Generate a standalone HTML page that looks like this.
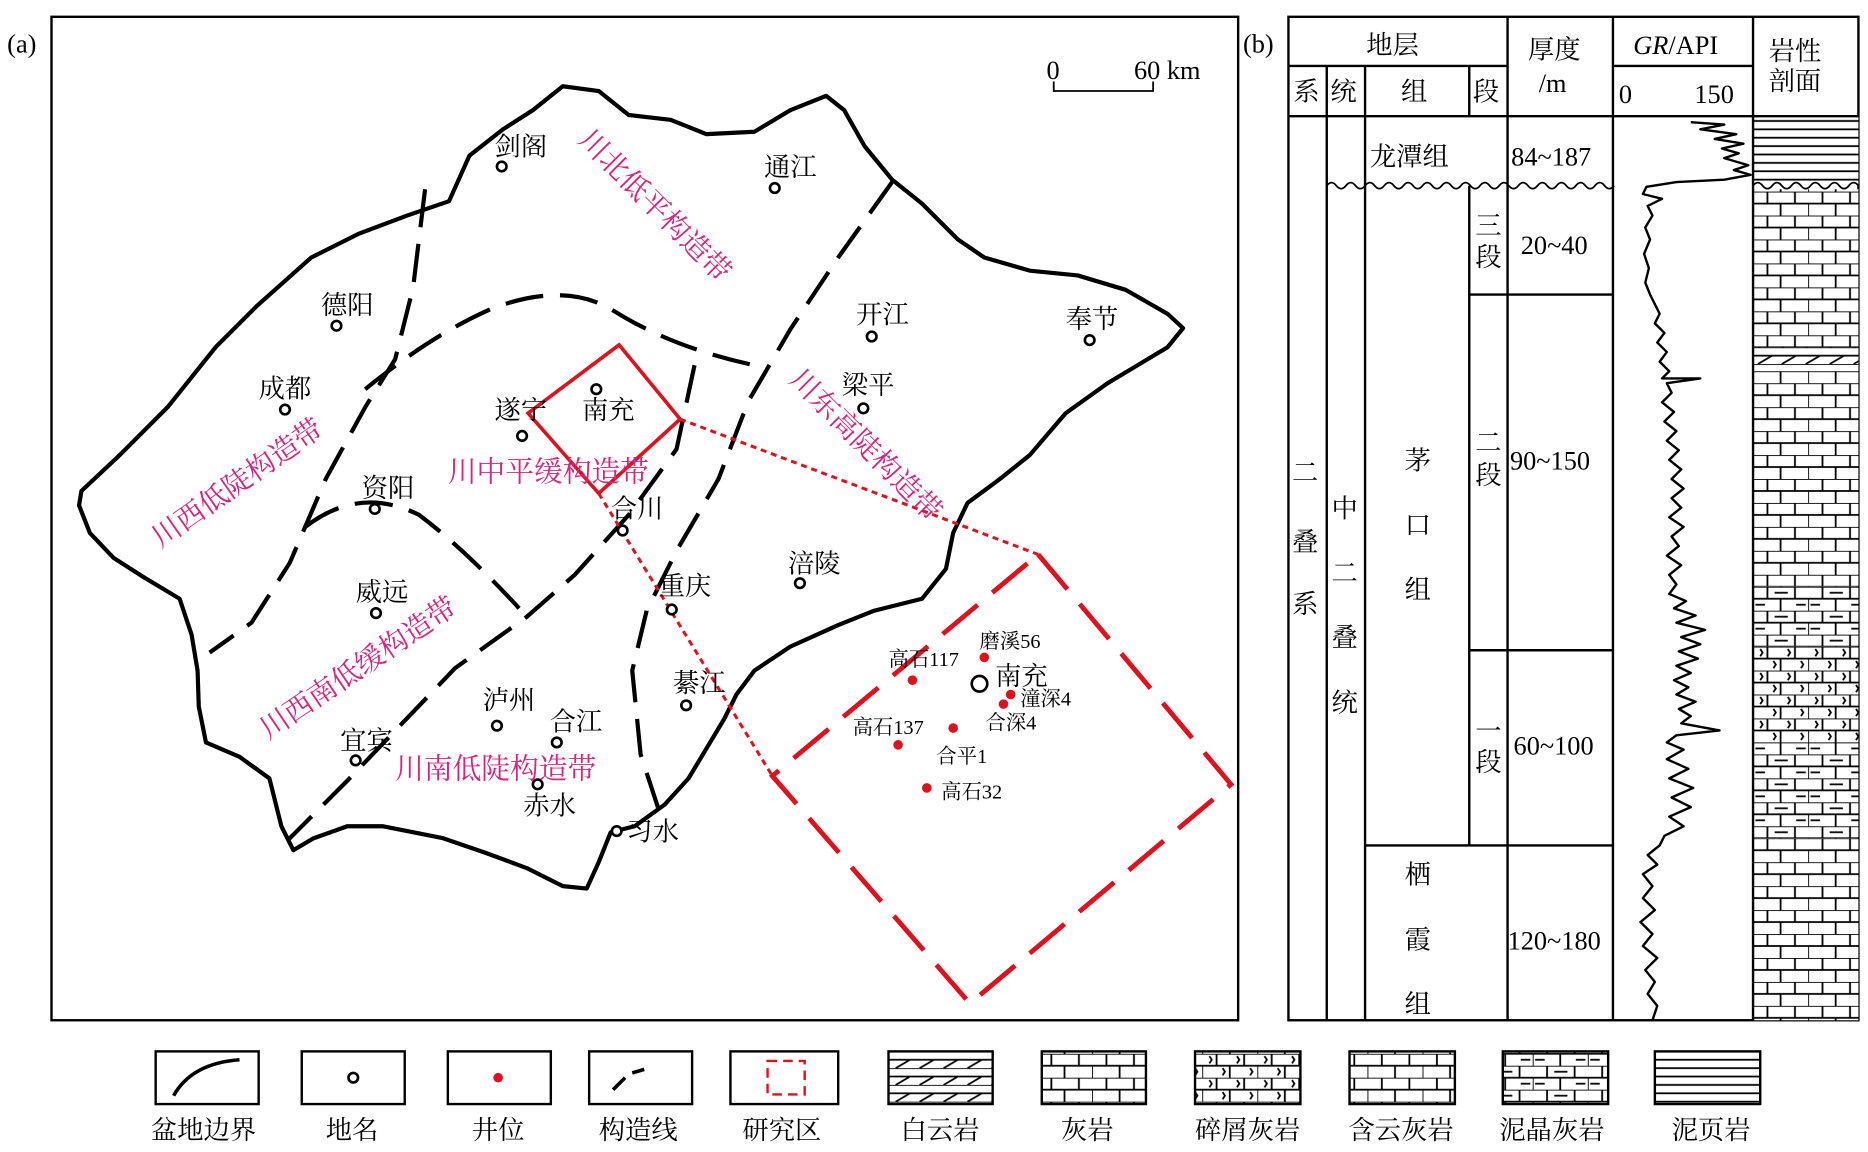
<!DOCTYPE html>
<html><head><meta charset="utf-8"><style>
html,body{margin:0;padding:0;background:#fff;}
svg{display:block;}
text{font-family:"Liberation Serif","Noto Serif CJK SC",serif;}
.b{font-size:22px;fill:#000;}
.m{font-size:24px;fill:#d6247f;}
.r{font-size:17px;fill:#000;}
</style></head><body>
<svg width="1868" height="1152" viewBox="0 0 1560 962" xmlns="http://www.w3.org/2000/svg">
<defs>
<pattern id="lime" width="46" height="20" patternUnits="userSpaceOnUse" x="1464" y="160">
<rect width="46" height="20" fill="#fff"/>
<path d="M0 0H46M0 10H46M12 0V10M35 0V10M0 10V20M23 10V20" stroke="#000" stroke-width="1.5" fill="none"/>
</pattern>
<pattern id="mud" width="46" height="20" patternUnits="userSpaceOnUse" x="1464" y="490">
<rect width="46" height="20" fill="#fff"/>
<path d="M0 0H46M0 10H46M12 0V10M35 0V10M0 10V20M23 10V20M18 5H29M2 15H10M36 15H44" stroke="#000" stroke-width="1.5" fill="none"/>
</pattern>
<pattern id="bio" width="46" height="20" patternUnits="userSpaceOnUse" x="1464" y="540">
<rect width="46" height="20" fill="#fff"/>
<path d="M0 0H46M0 10H46M12 0V10M35 0V10M0 10V20M23 10V20M6 2l2 3-2 3M29 2l2 3-2 3M17 12l2 3-2 3M40 12l2 3-2 3" stroke="#000" stroke-width="1.5" fill="none"/>
</pattern>
<pattern id="dol" width="40" height="14" patternUnits="userSpaceOnUse" x="1464" y="290">
<rect width="40" height="14" fill="#fff"/>
<path d="M0 0H40M0 7H40M4 14L16 7M24 14L36 7" stroke="#000" stroke-width="1.5" fill="none"/>
</pattern>
<pattern id="sh" width="10" height="7" patternUnits="userSpaceOnUse" x="0" y="100">
<rect width="10" height="7" fill="#fff"/><path d="M0 1H10" stroke="#000" stroke-width="1.5"/>
</pattern>
</defs>

<text x="6" y="44" class="b" font-size="21">(a)</text>
<rect x="43" y="14" width="991" height="838" fill="none" stroke="#000" stroke-width="2"/>
<text x="874" y="66" class="b">0</text><text x="947" y="66" class="b">60 km</text>
<path d="M880 68V76H963V68" fill="none" stroke="#000" stroke-width="1.5"/>

<path d="M68 410 L100 380 L140 340 L180 290 L215 255 L260 215 L300 195 L340 180 L375 168 L392 130 L420 108 L445 92 L470 72 L500 76 L525 96 L560 100 L590 112 L630 110 L660 92 L690 80 L705 92 L722 122 L745 150 L770 170 L800 200 L822 215 L860 226 L900 230 L940 242 L975 262 L988 274 L975 290 L950 305 L925 320 L890 345 L860 380 L835 400 L808 420 L796 445 L790 475 L770 500 L730 510 L700 522 L660 540 L630 560 L615 580 L605 600 L590 625 L575 650 L555 672 L530 690 L510 695 L500 720 L490 742 L470 740 L440 725 L405 712 L370 700 L320 690 L290 690 L262 700 L245 710 L235 690 L225 650 L200 632 L172 620 L166 590 L165 560 L160 530 L150 500 L120 482 L95 466 L75 445 L66 422 Z" fill="none" stroke="#000" stroke-width="3.5" stroke-linejoin="round"/>

<g fill="none" stroke="#000" stroke-width="3.5" stroke-dasharray="32,14">
<path d="M355 158 L345 240 L330 300 L305 340 L272 400 L242 470 L210 520 L175 545"/>
<path d="M305 325 Q360 280 410 258 Q470 235 510 258 Q560 290 630 305"/>
<path d="M745 152 L700 215 L660 275 L625 335 L600 400 L565 460 L540 510 L528 560 L535 630 L552 682"/>
<path d="M255 440 Q300 405 350 430 Q390 460 440 515"/>
<path d="M580 305 L565 375 L525 430 L480 480 L440 515 L380 558 L335 605 L290 652 L240 702"/>
</g>

<polygon points="517,288 568,350 500,412 441,345" fill="none" stroke="#e0101c" stroke-width="3"/>
<g stroke="#e0101c" stroke-width="2.5" stroke-dasharray="5,4" fill="none">
<path d="M568 350 L867 463"/><path d="M500 412 L645 648"/>
</g>
<polygon points="867,463 1028,655 810,838 645,648" fill="none" stroke="#e0101c" stroke-width="4" stroke-dasharray="38,16"/>

<g fill="#fff" stroke="#000" stroke-width="2.2">
<circle cx="419" cy="139" r="4"/><circle cx="647" cy="157" r="4"/><circle cx="281" cy="272" r="4"/>
<circle cx="728" cy="281" r="4"/><circle cx="910" cy="284" r="4"/><circle cx="238" cy="342" r="4"/>
<circle cx="498" cy="325" r="4"/><circle cx="436" cy="364" r="4"/><circle cx="721" cy="341" r="4"/>
<circle cx="313" cy="425" r="4"/><circle cx="520" cy="443" r="4"/><circle cx="668" cy="487" r="4"/>
<circle cx="314" cy="512" r="4"/><circle cx="561" cy="509" r="4"/><circle cx="415" cy="606" r="4"/>
<circle cx="465" cy="620" r="4"/><circle cx="573" cy="589" r="4"/><circle cx="297" cy="635" r="4"/>
<circle cx="449" cy="655" r="4"/><circle cx="515" cy="694" r="4"/>
<circle cx="818" cy="571" r="6.5"/>
</g>
<g class="b" font-size="23">
<text x="413" y="130">剑阁</text><text x="638" y="147">通江</text><text x="268" y="262">德阳</text>
<text x="715" y="270">开江</text><text x="890" y="274">奉节</text><text x="216" y="332">成都</text>
<text x="486" y="350">南充</text><text x="413" y="350">遂宁</text><text x="703" y="329">梁平</text>
<text x="302" y="415">资阳</text><text x="510" y="432">合川</text><text x="658" y="478">涪陵</text>
<text x="297" y="502">威远</text><text x="550" y="497">重庆</text><text x="403" y="592">泸州</text>
<text x="459" y="610">合江</text><text x="562" y="578">綦江</text><text x="284" y="626">宜宾</text>
<text x="437" y="680">赤水</text><text x="523" y="702">习水</text>
<text x="831" y="572">南充</text>
</g>
<text class="m" transform="translate(482,118) rotate(45)">川北低平构造带</text>
<text class="m" transform="translate(658,318) rotate(45)">川东高陡构造带</text>
<text class="m" transform="translate(134,458) rotate(-35)">川西低陡构造带</text>
<text class="m" transform="translate(224,618) rotate(-34)">川西南低缓构造带</text>
<text class="m" x="374" y="402">川中平缓构造带</text>
<text class="m" x="330" y="650">川南低陡构造带</text>

<g fill="#e0101c">
<circle cx="822" cy="549" r="4"/><circle cx="762" cy="568" r="4"/><circle cx="844" cy="580" r="4"/>
<circle cx="838" cy="588" r="4"/><circle cx="796" cy="608" r="4"/><circle cx="750" cy="622" r="4"/>
<circle cx="774" cy="658" r="4"/>
</g>
<g class="r">
<text x="818" y="541">磨溪56</text><text x="742" y="556">高石117</text><text x="852" y="589">潼深4</text>
<text x="823" y="609">合深4</text><text x="712" y="613">高石137</text><text x="782" y="637">合平1</text>
<text x="786" y="667">高石32</text>
</g>

<text x="1038" y="44" class="b" font-size="21">(b)</text>
<rect x="1076" y="14" width="476" height="838" fill="none" stroke="#000" stroke-width="2"/>
<rect x="1464" y="97" width="88" height="58" fill="url(#sh)"/>
<rect x="1464" y="158" width="88" height="332" fill="url(#lime)"/>
<rect x="1464" y="290" width="88" height="20" fill="url(#dol)"/>
<rect x="1464" y="490" width="88" height="50" fill="url(#mud)"/>
<rect x="1464" y="540" width="88" height="80" fill="url(#bio)"/>
<rect x="1464" y="620" width="88" height="80" fill="url(#mud)"/>
<rect x="1464" y="700" width="88" height="152" fill="url(#lime)"/>
<g stroke="#000" stroke-width="2" fill="none">
<path d="M1108 55V852M1140 55V852M1227 55V97M1259 14V852M1347 14V852M1464 14V852"/>
<path d="M1076 55H1259M1347 55H1464M1076 97H1552"/>
<path d="M1227 155V706M1227 246H1347M1227 543H1347M1140 706H1347"/>
<path d="M1108 155 q4 -5 8 0 t8 0 t8 0 t8 0 t8 0 t8 0 t8 0 t8 0 t8 0 t8 0 t8 0 t8 0 t8 0 t8 0 t8 0 t8 0 t8 0 t8 0 t8 0 t8 0 t8 0 t8 0 t8 0 t8 0 t8 0 t8 0 t8 0 t8 0 t8 0 t8 0" stroke-width="1.5"/>
<path d="M1464 155 q4 -5 8 0 t8 0 t8 0 t8 0 t8 0 t8 0 t8 0 t8 0 t8 0 t8 0 t8 0" stroke-width="1.5"/>
</g>
<g class="b" font-size="23">
<text x="1141" y="45">地层</text>
<text x="1080" y="84">系</text><text x="1111" y="84">统</text><text x="1170" y="84">组</text><text x="1230" y="84">段</text>
<text x="1276" y="49">厚度</text><text x="1285" y="77">/m</text>
<text x="1364" y="45"><tspan font-style="italic">GR</tspan>/API</text>
<text x="1352" y="86">0</text><text x="1415" y="86">150</text>
<text x="1477" y="50">岩性</text><text x="1477" y="75">剖面</text>
<text x="1144" y="138">龙潭组</text>
<text x="1262" y="138">84~187</text>
<text x="1232" y="196">三</text><text x="1232" y="222">段</text><text x="1270" y="212">20~40</text>
<text x="1232" y="377">二</text><text x="1232" y="404">段</text><text x="1261" y="392">90~150</text>
<text x="1232" y="618">一</text><text x="1232" y="644">段</text><text x="1264" y="630">60~100</text>
<text x="1259" y="793">120~180</text>
<text x="1173" y="392">茅</text><text x="1173" y="446">口</text><text x="1173" y="500">组</text>
<text x="1173" y="738">栖</text><text x="1173" y="792">霞</text><text x="1173" y="846">组</text>
<text x="1079" y="402">二</text><text x="1079" y="460">叠</text><text x="1079" y="512">系</text>
<text x="1112" y="432">中</text><text x="1112" y="486">二</text><text x="1112" y="540">叠</text><text x="1112" y="594">统</text>
</g>
<polyline fill="none" stroke="#000" stroke-width="2" stroke-linejoin="round" points="
1412,102 1440,104 1420,108 1450,112 1432,116 1456,120 1438,124 1452,128 1440,132 1460,138 1448,142 1462,146 1440,150 1400,152 1375,156 1372,162 1388,166 1376,172 1380,180 1374,190 1378,200 1373,212 1377,224 1374,236 1378,246 1382,254 1386,262 1382,270 1390,278 1384,286 1392,294 1386,302 1394,310 1388,316 1420,316 1392,320 1396,328 1388,336 1398,344 1390,352 1400,360 1392,368 1402,376 1394,384 1404,392 1396,400 1406,408 1396,416 1404,424 1394,432 1406,440 1396,448 1402,456 1392,464 1404,472 1394,480 1400,488 1394,496 1408,502 1398,508 1416,514 1400,520 1424,526 1404,532 1420,538 1402,544 1418,550 1400,556 1412,562 1398,568 1410,574 1400,580 1416,586 1402,592 1412,598 1404,604 1436,610 1400,614 1392,620 1406,626 1392,634 1410,642 1394,650 1414,658 1396,666 1412,674 1394,682 1406,690 1390,698 1386,706 1376,714 1384,722 1372,730 1380,740 1372,750 1382,760 1370,770 1380,780 1372,790 1384,800 1374,810 1382,820 1376,830 1384,840 1380,852"/>

<g stroke="#000" stroke-width="2" fill="#fff">
<rect x="130" y="878" width="86" height="44"/><rect x="252" y="878" width="86" height="44"/>
<rect x="374" y="878" width="86" height="44"/><rect x="492" y="878" width="86" height="44"/>
<rect x="610" y="878" width="90" height="44"/>
</g>
<rect x="742" y="878" width="87" height="44" fill="url(#dol)" stroke="#000" stroke-width="2"/>
<rect x="870" y="878" width="87" height="44" fill="url(#lime)" stroke="#000" stroke-width="2"/>
<rect x="998" y="878" width="88" height="44" fill="url(#bio)" stroke="#000" stroke-width="2"/>
<rect x="1127" y="878" width="88" height="44" fill="url(#lime)" stroke="#000" stroke-width="2"/>
<rect x="1255" y="878" width="88" height="44" fill="url(#mud)" stroke="#000" stroke-width="2"/>
<rect x="1382" y="878" width="88" height="44" fill="url(#sh)" stroke="#000" stroke-width="2"/>
<path d="M145 915 Q160 888 200 885" fill="none" stroke="#000" stroke-width="3"/>
<circle cx="295" cy="900" r="4" fill="#fff" stroke="#000" stroke-width="2.2"/>
<circle cx="416" cy="900" r="4" fill="#e0101c"/>
<path d="M512 910 L522 900 M528 896 L538 893" stroke="#000" stroke-width="3"/>
<rect x="641" y="886" width="31" height="28" fill="none" stroke="#e0101c" stroke-width="2" stroke-dasharray="8,5"/>
<g class="b" font-size="23">
<text x="126" y="951">盆地边界</text><text x="272" y="951">地名</text><text x="394" y="951">井位</text>
<text x="500" y="951">构造线</text><text x="620" y="951">研究区</text><text x="752" y="951">白云岩</text>
<text x="886" y="951">灰岩</text><text x="998" y="951">碎屑灰岩</text><text x="1126" y="951">含云灰岩</text>
<text x="1252" y="951">泥晶灰岩</text><text x="1396" y="951">泥页岩</text>
</g>
</svg>
</body></html>
